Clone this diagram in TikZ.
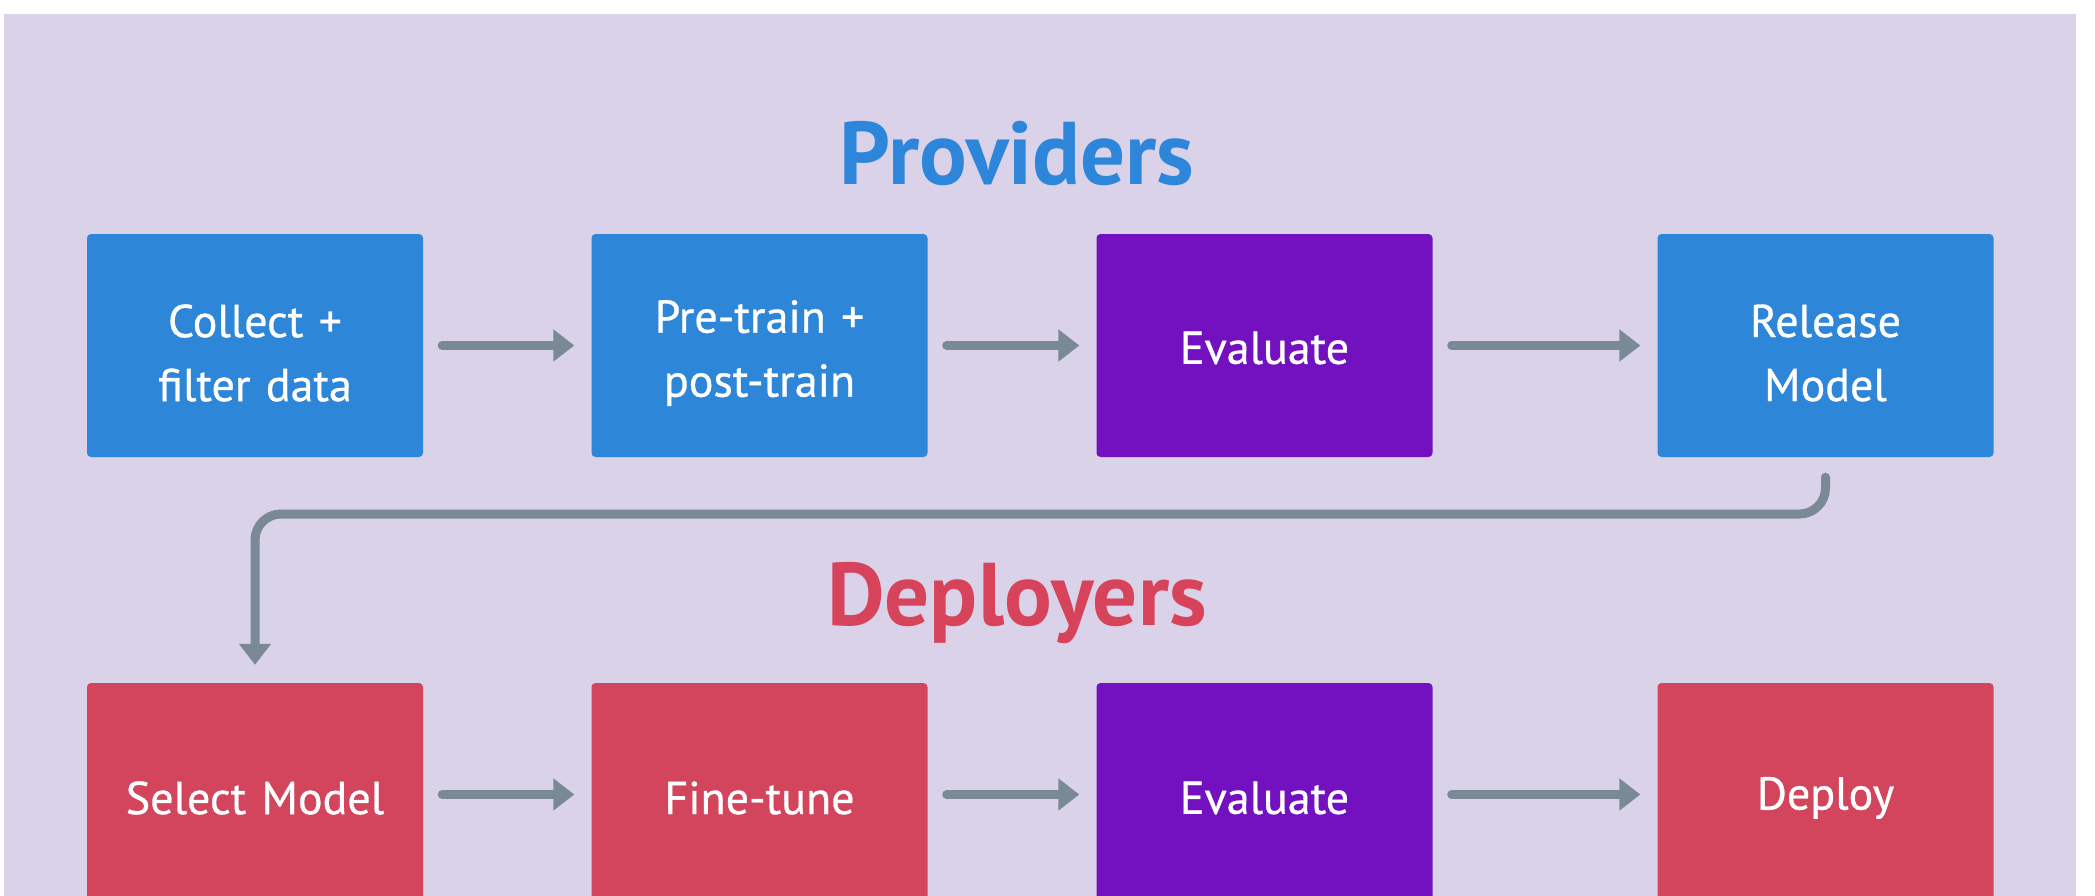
\documentclass[tikz,border=0pt]{standalone}
\usepackage{fontspec}
\setmainfont{PT Sans}
\newfontfamily\boxfont[FakeBold=0.7]{PT Sans}
\usetikzlibrary{arrows.meta,calc}
\definecolor{bgc}{HTML}{D9D2E9}
\definecolor{bluec}{HTML}{2E86D8}
\definecolor{purpc}{HTML}{7310C0}
\definecolor{redc}{HTML}{D3455C}
\definecolor{grayc}{HTML}{7A8996}
\definecolor{titleblue}{HTML}{2E86DA}
\definecolor{titlered}{HTML}{D6435A}
\tikzset{
  stepbox/.style={rounded corners=4pt, minimum width=336pt, minimum height=223pt,
    inner sep=0pt},
  boxtext/.style={text=white, align=center, text width=320pt, inner sep=0pt,
    font=\boxfont\fontsize{46}{64}\selectfont},
  bluebox/.style={stepbox, fill=bluec},
  purpbox/.style={stepbox, fill=purpc},
  redbox/.style={stepbox, fill=redc},
  conn/.style={draw=grayc, line width=9pt, line cap=round,
    -{Triangle[length=21pt,width=31pt]}, shorten <=19pt, shorten >=17pt},
  titletext/.style={font=\fontsize{89}{95}\selectfont\bfseries}
}
\begin{document}
\begin{tikzpicture}[x=1pt,y=-1pt]
\useasboundingbox (0,0) rectangle (2095,896);
\clip (0,0) rectangle (2095,896);
\fill[white] (0,0) rectangle (2095,896);
\fill[bgc] (4,14) rectangle (2076,900);
% titles
\node[titletext, text=titleblue] (prov) at (1017,153) {Providers};
\node[titletext, text=titlered] (depl) at (1017,603) {Deployers};
% top row
\node[bluebox] (collect) at (255,345.5) {};
\node[boxtext] (collectT) at (255,353) {Collect +\\filter data};
\node[bluebox] (pretrain) at (759.5,345.5) {};
\node[boxtext] (pretrainT) at (759.5,353) {Pre-train +\\post-train};
\node[purpbox] (eval1) at (1264.5,345.5) {};
\node[boxtext] (eval1T) at (1264.5,348) {Evaluate};
\node[bluebox] (release) at (1825.5,345.5) {};
\node[boxtext] (releaseT) at (1825.5,353) {Release\\Model};
% bottom row
\node[redbox] (select) at (255,794.5) {};
\node[boxtext] (selectT) at (255,798) {Select Model};
\node[redbox] (finetune) at (759.5,794.5) {};
\node[boxtext] (finetuneT) at (759.5,798) {Fine-tune};
\node[purpbox] (eval2) at (1264.5,794.5) {};
\node[boxtext] (eval2T) at (1264.5,798) {Evaluate};
\node[redbox] (deploy) at (1825.5,794.5) {};
\node[boxtext] (deployT) at (1825.5,798) {Deploy};
% arrows
\draw[conn] (collect) -- (pretrain);
\draw[conn] (pretrain) -- (eval1);
\draw[conn] (eval1) -- (release);
\draw[conn] (select) -- (finetune);
\draw[conn] (finetune) -- (eval2);
\draw[conn] (eval2) -- (deploy);
% bend connector
\coordinate (mid) at (1000,514);
\draw[draw=grayc, line width=9pt, line cap=round, rounded corners=26pt,
  -{Triangle[length=21pt,width=31pt]}, shorten <=20pt, shorten >=18pt]
  (release.south) -- (release.south |- mid) -- (select.north |- mid) -- (select.north);
\end{tikzpicture}
\end{document}
